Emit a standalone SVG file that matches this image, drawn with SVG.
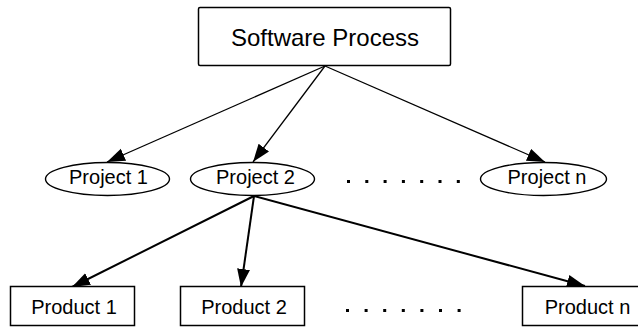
<svg xmlns="http://www.w3.org/2000/svg" width="638" height="327" viewBox="0 0 638 327">
<style>
.box{fill:#fff;stroke:#000;stroke-width:1.5}
.ell{fill:#fff;stroke:#000;stroke-width:1.4}
.t{font-family:"Liberation Sans",Arial,sans-serif;fill:#000;text-anchor:middle}
.c1{stroke:#000;stroke-width:1.3;fill:none;marker-end:url(#ah)}
.c2{stroke:#000;stroke-width:2;fill:none;marker-end:url(#ah)}
.dot{fill:#000}
</style>
<defs>
<marker id="ah" markerUnits="userSpaceOnUse" markerWidth="19" markerHeight="14" refX="18" refY="6.5" orient="auto">
<path d="M0,0 L18,6.5 L0,13 z" fill="#000"/>
</marker>
</defs>
<rect width="638" height="327" fill="#fff"/>
<g id="connectors">
<line class="c1" x1="325" y1="66" x2="107" y2="162"/>
<line class="c1" x1="325" y1="66" x2="253" y2="162"/>
<line class="c1" x1="325" y1="66" x2="545" y2="162"/>
<line class="c2" x1="254" y1="196" x2="72" y2="287"/>
<line class="c2" x1="254" y1="196" x2="241" y2="287"/>
<line class="c2" x1="254" y1="196" x2="585" y2="286"/>
</g>
<g id="software-process">
<rect class="box" x="198.5" y="7.5" width="252" height="58" rx="1.5"/>
<text class="t" x="325" y="46" font-size="24">Software Process</text>
</g>
<g id="project-1">
<ellipse class="ell" cx="107.5" cy="179" rx="62" ry="16.5"/>
<text class="t" x="108.5" y="184" font-size="20">Project 1</text>
</g>
<g id="project-2">
<ellipse class="ell" cx="252.5" cy="179" rx="62" ry="16.5"/>
<text class="t" x="255.5" y="184" font-size="20">Project 2</text>
</g>
<g id="project-dots">
<rect class="dot" x="347" y="180" width="3" height="3"/>
<rect class="dot" x="365.3" y="180" width="3" height="3"/>
<rect class="dot" x="383.6" y="180" width="3" height="3"/>
<rect class="dot" x="401.9" y="180" width="3" height="3"/>
<rect class="dot" x="420.2" y="180" width="3" height="3"/>
<rect class="dot" x="438.5" y="180" width="3" height="3"/>
<rect class="dot" x="456.8" y="180" width="3" height="3"/>
</g>
<g id="project-n">
<ellipse class="ell" cx="543.5" cy="179" rx="63" ry="16.5"/>
<text class="t" x="547" y="184" font-size="20">Project n</text>
</g>
<g id="product-1">
<rect class="box" x="10.5" y="286.5" width="124" height="39"/>
<text class="t" x="74" y="314" font-size="20">Product 1</text>
</g>
<g id="product-2">
<rect class="box" x="180.5" y="286.5" width="124" height="39"/>
<text class="t" x="244" y="314" font-size="20">Product 2</text>
</g>
<g id="product-dots">
<rect class="dot" x="346" y="309" width="3" height="3"/>
<rect class="dot" x="364.6" y="309" width="3" height="3"/>
<rect class="dot" x="383.2" y="309" width="3" height="3"/>
<rect class="dot" x="401.8" y="309" width="3" height="3"/>
<rect class="dot" x="420.4" y="309" width="3" height="3"/>
<rect class="dot" x="439" y="309" width="3" height="3"/>
<rect class="dot" x="457.6" y="309" width="3" height="3"/>
</g>
<g id="product-n">
<rect class="box" x="522.5" y="286.5" width="124" height="39"/>
<text class="t" x="587.5" y="314" font-size="20">Product n</text>
</g>
</svg>
